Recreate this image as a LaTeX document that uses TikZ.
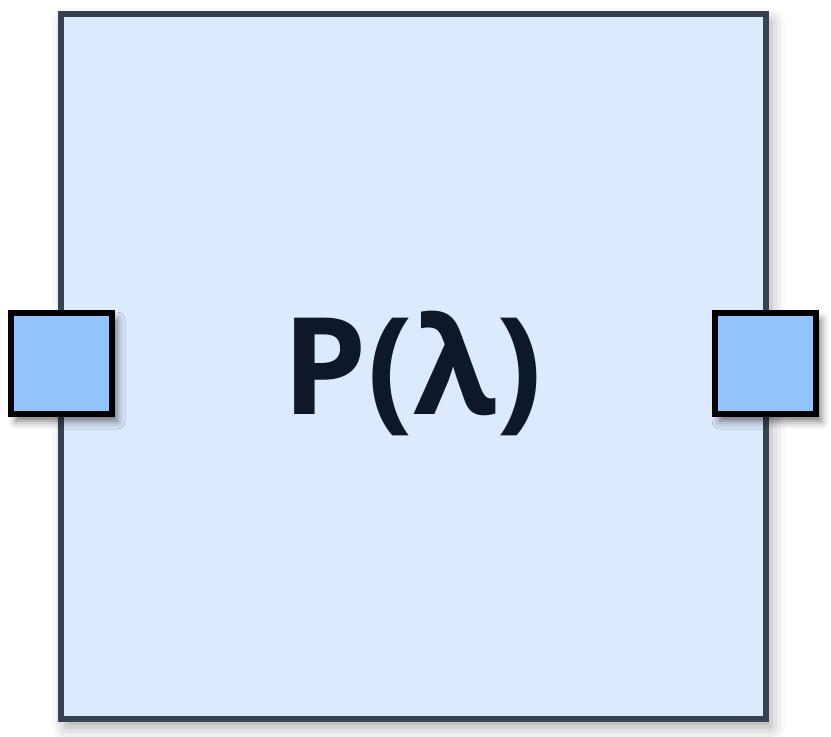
\documentclass[tikz,border=0pt]{standalone}
\usepackage{fontspec}
\setmainfont{Open Sans}
\usetikzlibrary{shadows.blur}
\definecolor{boxfill}{HTML}{DBEAFE}
\definecolor{boxline}{HTML}{374151}
\definecolor{portfill}{HTML}{93C5FD}
\definecolor{txt}{HTML}{0F172A}
\tikzset{
  block/.style={draw=boxline, fill=boxfill, line width=6pt, minimum width=705pt, minimum height=705pt, inner sep=0pt,
    blur shadow={shadow xshift=5pt, shadow yshift=-8pt, shadow blur radius=14pt, shadow opacity=35}},
  port/.style={draw=black, fill=portfill, line width=6pt, minimum width=101pt, minimum height=101pt, inner sep=0pt,
    blur shadow={shadow xshift=5pt, shadow yshift=-7pt, shadow blur radius=8pt, shadow opacity=55}},
  lbl/.style={text=txt, font=\fontsize{135}{135}\selectfont\bfseries, inner sep=0pt, anchor=base}
}
\begin{document}
\begin{tikzpicture}[x=1pt,y=-1pt]
\useasboundingbox (0,0) rectangle (831,737);
\node[block] (main) at (413.5,366.5) {};
\node[lbl] (label) at (412.5,414) {P(λ)};
\node[port] (pl) at (61.5,363.5) {};
\node[port] (pr) at (765.5,363.5) {};
\end{tikzpicture}
\end{document}
